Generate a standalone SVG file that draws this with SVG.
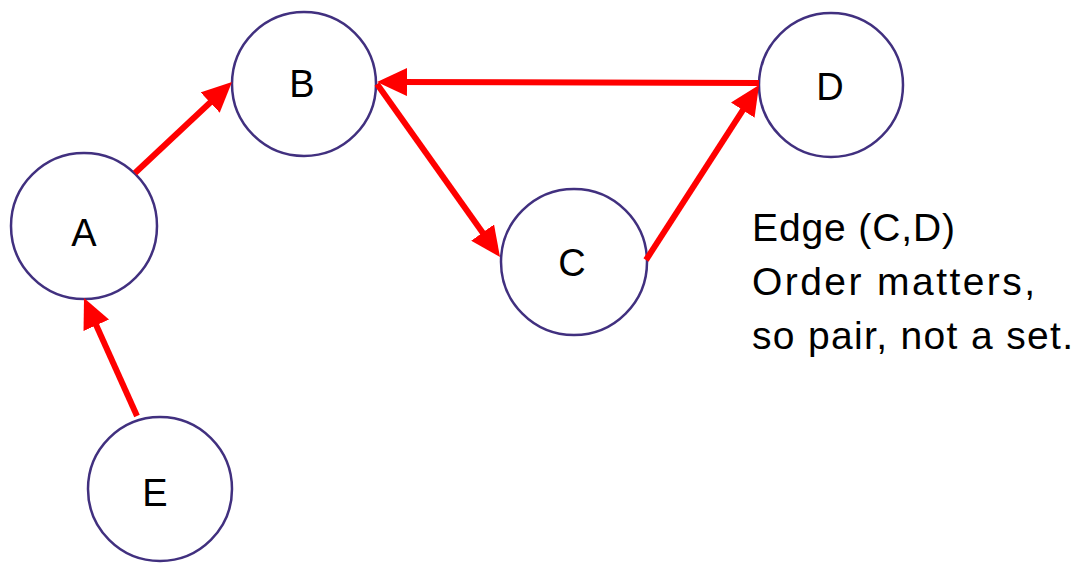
<svg xmlns="http://www.w3.org/2000/svg" width="1083" height="563" viewBox="0 0 1083 563">
<style>
.node{fill:#fff;stroke:#41307F;stroke-width:2.5}
.lbl{font-family:"Liberation Sans",Arial,sans-serif;font-size:38px;fill:#000;text-anchor:middle}
.edge{stroke:#FF0000;stroke-width:6;fill:none;marker-end:url(#ah)}
.note{font-family:"Liberation Sans",Arial,sans-serif;font-size:39px;fill:#000}
</style>
<defs>
<marker id="ah" markerUnits="userSpaceOnUse" markerWidth="30" markerHeight="28" refX="10" refY="14" orient="auto">
<path d="M0,0 L30,14 L0,28 z" fill="#FF0000"/>
</marker>
</defs>
<rect width="1083" height="563" fill="#fff"/>
<g id="node-A"><circle class="node" cx="84" cy="226" r="73"/><text class="lbl" x="84" y="246">A</text></g>
<g id="node-B"><circle class="node" cx="304" cy="84" r="72"/><text class="lbl" x="302" y="97">B</text></g>
<g id="node-C"><circle class="node" cx="574" cy="262" r="73"/><text class="lbl" x="572" y="276">C</text></g>
<g id="node-D"><circle class="node" cx="831" cy="85" r="72"/><text class="lbl" x="830" y="100">D</text></g>
<g id="node-E"><circle class="node" cx="160" cy="489" r="72"/><text class="lbl" x="155" y="506">E</text></g>
<g id="connectors">
<line class="edge" x1="135" y1="173" x2="217.4" y2="95.7"/>
<line class="edge" x1="377" y1="84" x2="488.4" y2="240.7"/>
<line class="edge" x1="759" y1="83" x2="397" y2="82.05"/>
<line class="edge" x1="646" y1="260" x2="748.2" y2="101.8"/>
<line class="edge" x1="137" y1="416" x2="92.2" y2="316.2"/>
</g>
<g id="note">
<text class="note" x="752" y="241" textLength="203" lengthAdjust="spacing">Edge (C,D)</text>
<text class="note" x="752" y="295" textLength="283" lengthAdjust="spacing">Order matters,</text>
<text class="note" x="752" y="349" textLength="321" lengthAdjust="spacing">so pair, not a set.</text>
</g>
</svg>
